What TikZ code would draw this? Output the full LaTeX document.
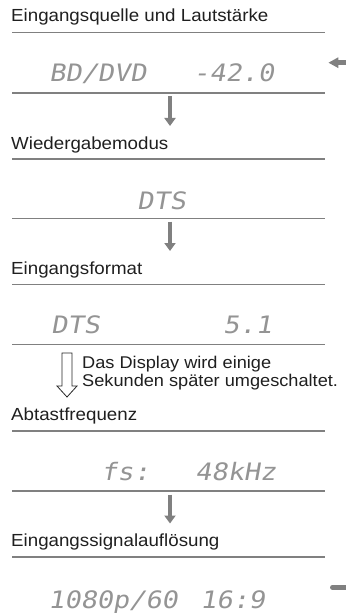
\documentclass[tikz,border=0pt]{standalone}
\usepackage{fontspec}
\setmainfont{Liberation Sans}[FakeStretch=1.07]
\newfontfamily\dispfont{DejaVu Sans Mono}[FakeStretch=1.12,FakeSlant=0.18]
\usetikzlibrary{arrows.meta}
\begin{document}
\begin{tikzpicture}[x=1pt,y=-1pt,
  title/.style={anchor=base west,inner sep=0pt,font=\fontsize{17.5}{20}\selectfont,text=black!88},
  note/.style={anchor=base west,inner sep=0pt,font=\fontsize{17}{20}\selectfont,text=black!88},
  disp/.style={anchor=base west,inner sep=0pt,font=\dispfont\fontsize{24}{28}\selectfont,text=black!42},
  rule/.style={draw=black!50,line width=1.6pt},
  flow/.style={draw=black!50,line width=4.6pt,-{Triangle[length=8pt,width=11pt]}},
  hollow/.style={draw=black!85,line width=0.8pt,fill=white},
]
\useasboundingbox (0,0) rectangle (345,615);

% titles
\node[title] (t1) at (11,22) {Eingangsquelle und Lautstärke};
\node[title] (t2) at (11,149.3) {Wiedergabemodus};
\node[title] (t3) at (11,274) {Eingangsformat};
\node[title] (t4) at (11,420.7) {Abtastfrequenz};
\node[title] (t5) at (11,546.7) {Eingangssignalauflösung};

% rules
\draw[rule] (12.3,32.5) -- (325,32.5);
\draw[rule] (12.3,93.3) -- (325,93.3);
\draw[rule] (12.3,159) -- (325,159);
\draw[rule] (12.3,218.3) -- (325,218.3);
\draw[rule] (12.3,284.3) -- (325,284.3);
\draw[rule] (12.3,344.3) -- (325,344.3);
\draw[rule] (12.3,430.7) -- (325,430.7);
\draw[rule] (12.3,491) -- (325,491);
\draw[rule] (12.3,556.7) -- (325,556.7);

% display texts
\node[disp] (d1a) at (49,81.7) {BD/DVD};
\node[disp] (d1b) at (193,81.7) {-42.0};
\node[disp] (d2) at (137,209) {DTS};
\node[disp] (d3a) at (51,333) {DTS};
\node[disp] (d3b) at (223,333) {5.1};
\node[disp] (d4a) at (101,480) {fs:};
\node[disp] (d4b) at (195,480) {48kHz};
\node[disp] (d5a) at (48,608.3) {1080p/60};
\node[disp] (d5b) at (200,608.3) {16:9};

% down arrows
\coordinate (a1s) at (170,96.5);
\coordinate (a1e) at (170,126);
\draw[flow] (a1s) -- (a1e);
\coordinate (a2s) at (170,221.5);
\coordinate (a2e) at (170,251);
\draw[flow] (a2s) -- (a2e);
\coordinate (a3s) at (170,494.5);
\coordinate (a3e) at (170,523.5);
\draw[flow] (a3s) -- (a3e);

% hollow arrow and note
\draw[hollow] (62,353) -- (72,353) -- (72,386) -- (77,386) -- (67,397) -- (57,386) -- (62,386) -- cycle;
\node[note] (n1) at (82,368) {Das Display wird einige};
\node[note] (n2) at (82,386.7) {Sekunden später umgeschaltet.};

% right-hand loop (cut off)
\coordinate (r1s) at (346,62.7);
\coordinate (r1e) at (328.3,62.7);
\draw[draw=black!50,line width=4.7pt,-{Triangle[length=10pt,width=10pt]}] (r1s) -- (r1e);
\coordinate (r2s) at (332.5,587.3);
\coordinate (r2e) at (346,587.3);
\draw[draw=black!50,line width=5pt,line cap=round] (r2s) -- (r2e);
\end{tikzpicture}
\end{document}
